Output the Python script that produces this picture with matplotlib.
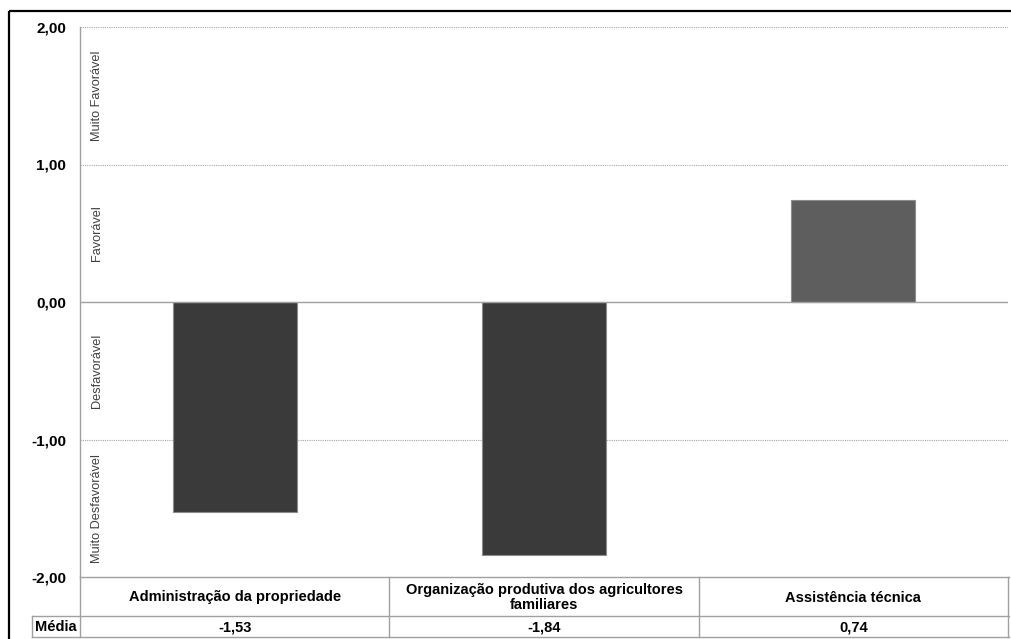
import matplotlib.pyplot as plt
from matplotlib.transforms import blended_transform_factory
from matplotlib.ticker import FuncFormatter

plt.rcParams["font.family"] = ["Liberation Sans", "DejaVu Sans"]

categories = [
    "Administração da propriedade",
    "Organização produtiva dos agricultores\nfamiliares",
    "Assistência técnica",
]
medias = [-1.53, -1.84, 0.74]
y_ticks = [-2.0, -1.0, 0.0, 1.0, 2.0]
bands = ["Muito Favorável", "Favorável", "Desfavorável", "Muito Desfavorável"]
band_mids = [1.5, 0.5, -0.5, -1.5]
row_label = "Média"


def br_number(v):
    return f"{v:.2f}".replace(".", ",")


W, H = 1011, 639
fig = plt.figure(figsize=(W / 100, H / 100), dpi=100)

# plot area in pixel units
left, right, top, bottom = 80, 1008, 27, 577
ax = fig.add_axes([left / W, (H - bottom) / H, (right - left) / W, (bottom - top) / H])

x = list(range(len(categories)))
colors = ["#3a3a3a" if v < 0 else "#5e5e5e" for v in medias]
ax.bar(x, medias, width=0.4, color=colors, edgecolor="#8c8c8c", linewidth=0.8, zorder=3)

ax.set_xlim(-0.5, len(categories) - 0.5)
ax.set_ylim(-2, 2)
ax.set_yticks(y_ticks)
ax.yaxis.set_major_formatter(FuncFormatter(lambda v, _: br_number(v)))
ax.tick_params(axis="y", length=0, pad=10, labelsize=11)
for lbl in ax.get_yticklabels():
    lbl.set_fontweight("bold")
ax.set_xticks([])

for yv in y_ticks:
    if yv in (-2.0, 0.0):
        continue
    ax.axhline(yv, color="#a6a6a6", linestyle=(0, (1, 1)), linewidth=0.8, zorder=1)
ax.axhline(0, color="#a0a0a0", linewidth=1.0, zorder=4)

for side in ["top", "right", "bottom"]:
    ax.spines[side].set_visible(False)
ax.spines["left"].set_color("#a0a0a0")
ax.spines["left"].set_linewidth(1.0)

band_tr = blended_transform_factory(ax.transAxes, ax.transData)
for name, mid in zip(bands, band_mids):
    ax.text(0.018, mid, name, transform=band_tr, rotation=90, ha="center", va="center",
            fontsize=9.2, color="#404040")

# overlay in pixel coordinates for the frame and data table
over = fig.add_axes([0, 0, 1, 1], zorder=5)
over.set_xlim(0, W)
over.set_ylim(H, 0)
over.axis("off")
over.patch.set_alpha(0)

over.plot([9, W], [11, 11], color="black", linewidth=1.6, solid_capstyle="butt")
over.plot([9, 9], [11, H], color="black", linewidth=1.6, solid_capstyle="butt")

grid_c = "#a0a0a0"
tbl_top, tbl_mid, tbl_bot = 577, 616, 637
over.plot([left, 1009], [tbl_top, tbl_top], color=grid_c, linewidth=1.0)
over.plot([32, 1009], [tbl_mid, tbl_mid], color=grid_c, linewidth=1.0)
over.plot([32, 1009], [tbl_bot, tbl_bot], color=grid_c, linewidth=1.0)
over.plot([32, 32], [tbl_mid, tbl_bot], color=grid_c, linewidth=1.0)

col_tr = blended_transform_factory(ax.transData, over.transData)
for b in [i - 0.5 for i in range(len(categories) + 1)]:
    over.plot([b, b], [tbl_top, tbl_bot], color=grid_c, linewidth=1.0, transform=col_tr)

for xi, name, v in zip(x, categories, medias):
    over.text(xi, (tbl_top + tbl_mid) / 2 + 1, name, transform=col_tr, ha="center", va="center",
              fontsize=10.5, fontweight="bold", linespacing=1.05)
    over.text(xi, (tbl_mid + tbl_bot) / 2 + 0.5, br_number(v), transform=col_tr,
              ha="center", va="center", fontsize=10.5, fontweight="bold")

over.text(56, (tbl_mid + tbl_bot) / 2 + 0.5, row_label, ha="center", va="center",
          fontsize=10.5, fontweight="bold")

fig.savefig("out.png", dpi=100)
